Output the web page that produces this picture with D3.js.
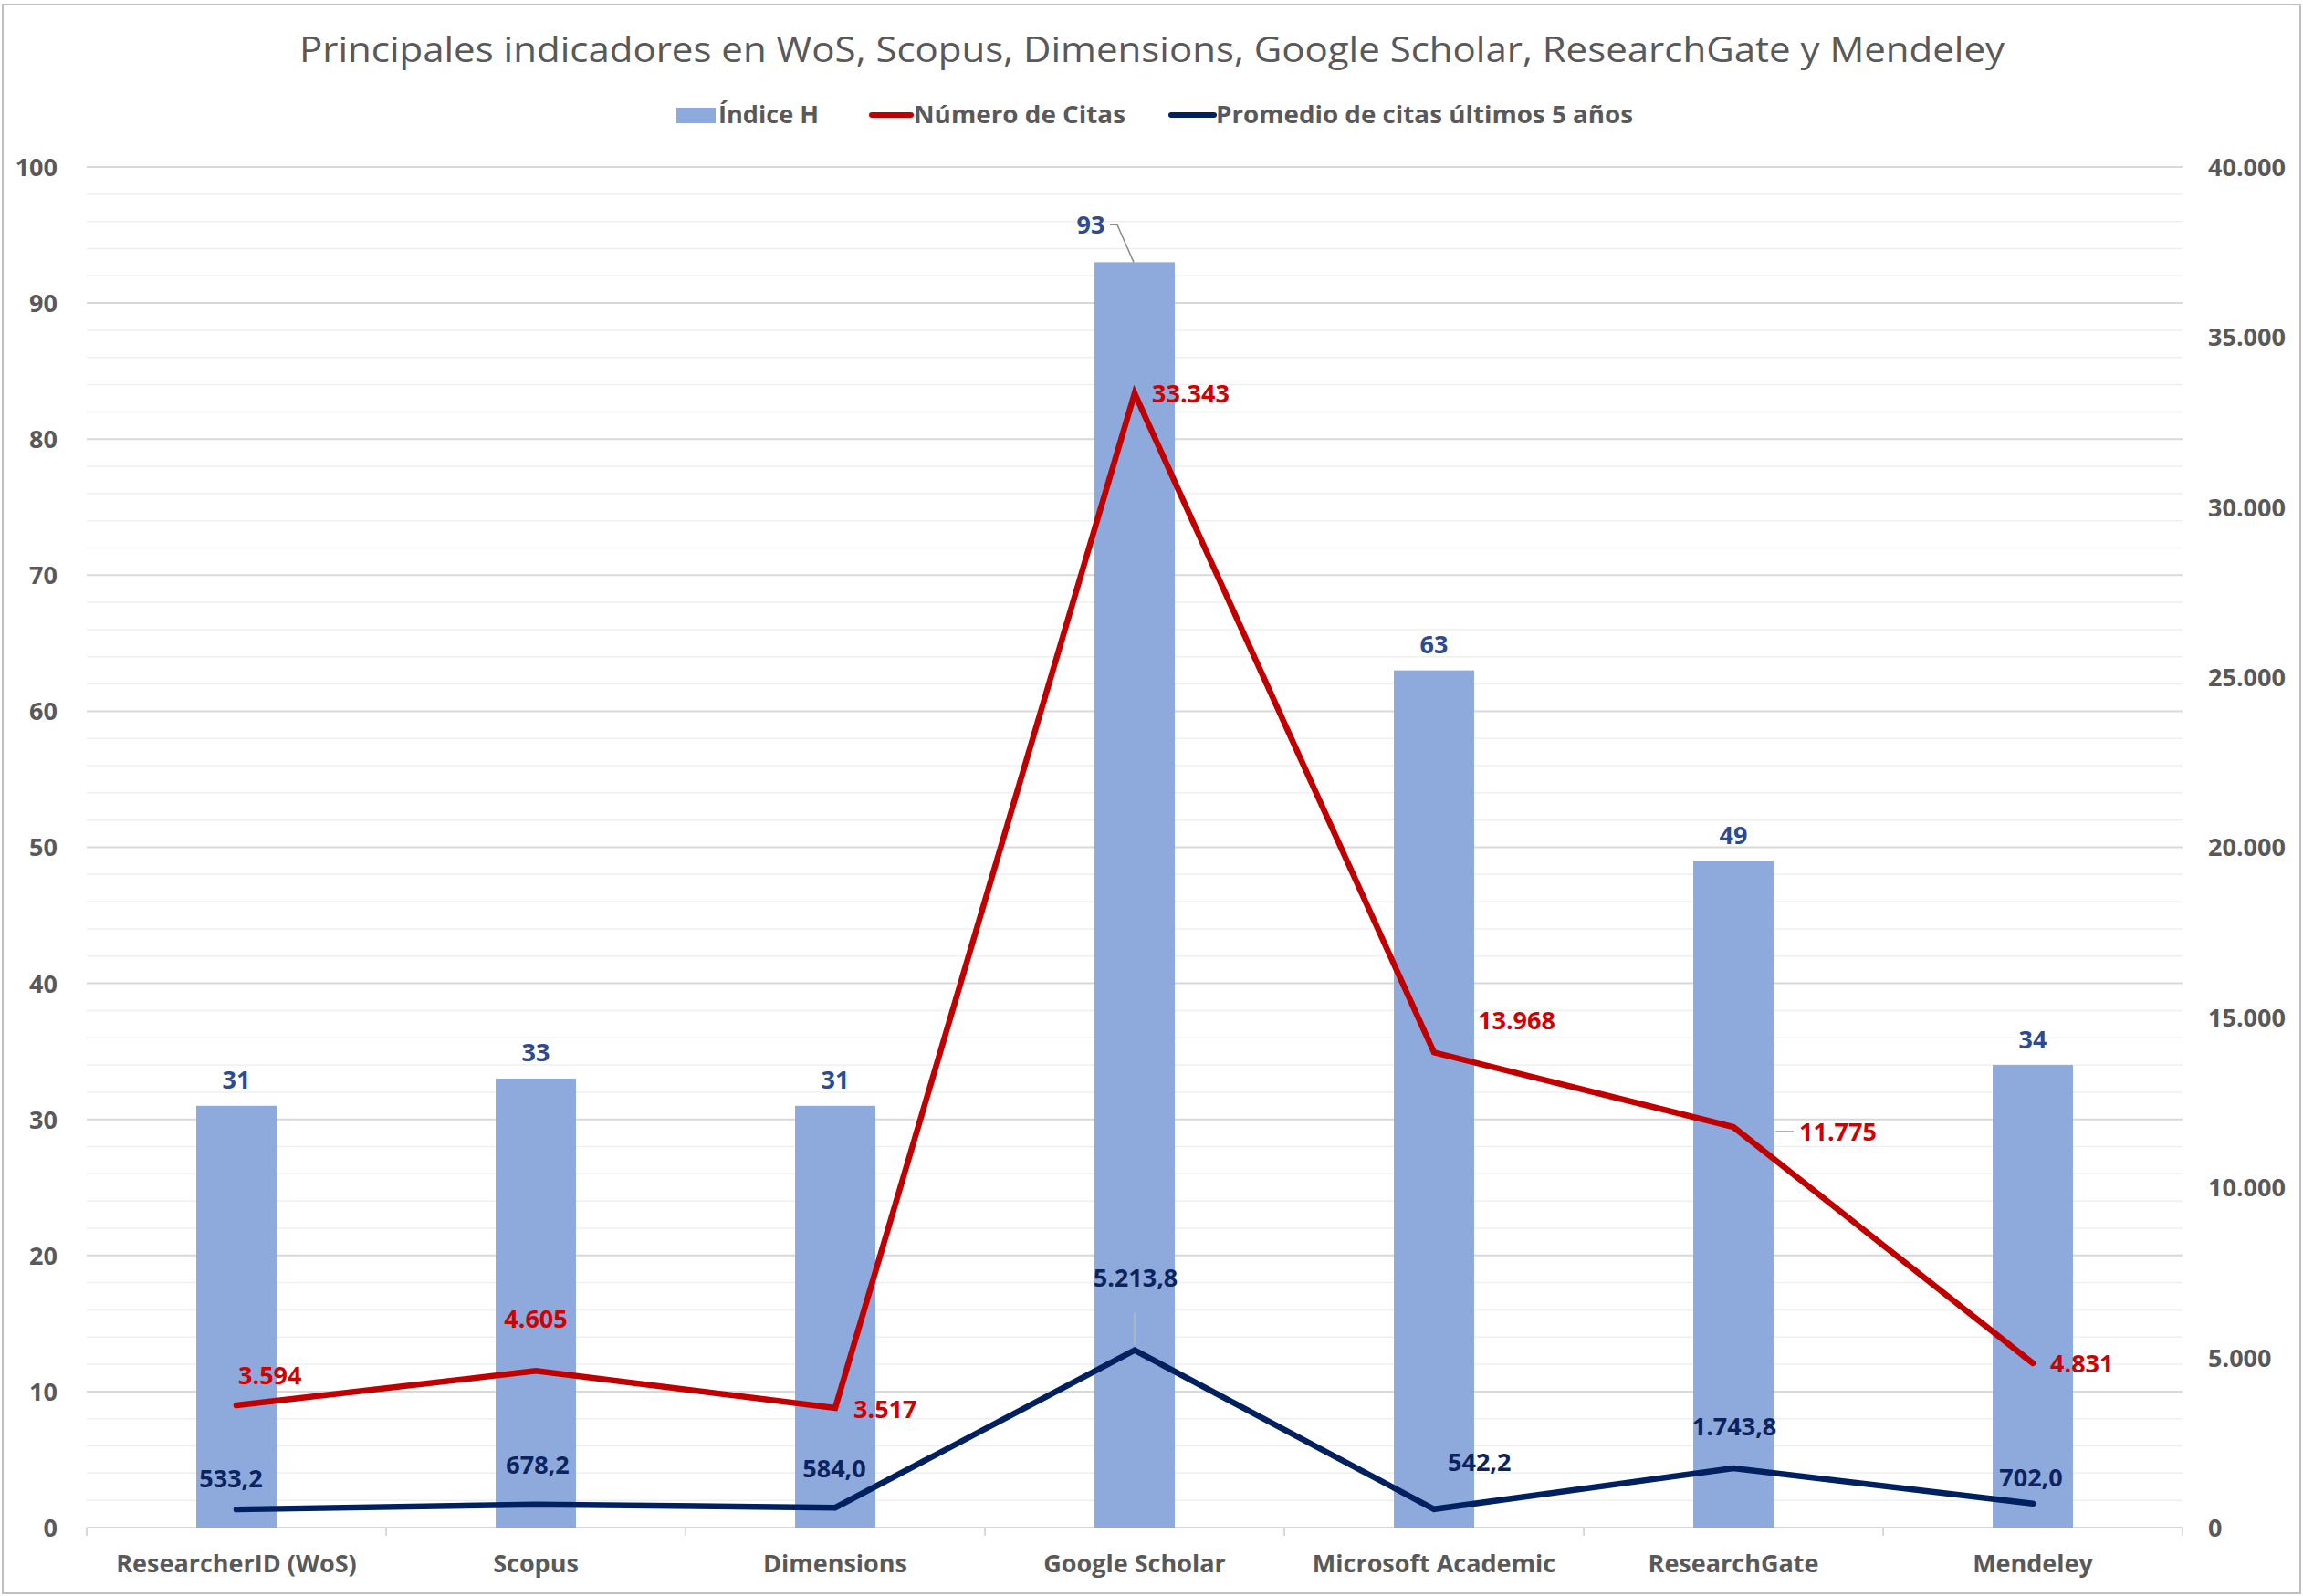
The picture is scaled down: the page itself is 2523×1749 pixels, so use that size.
<!DOCTYPE html>
<html>
<head>
<meta charset="utf-8">
<script src="https://cdn.jsdelivr.net/npm/d3@7"></script>
<style>
  html, body { margin: 0; padding: 0; background: #ffffff; }
  svg { display: block; }
</style>
</head>
<body>
<script>
// ---------- DATA ----------
const categories = ["ResearcherID (WoS)", "Scopus", "Dimensions", "Google Scholar", "Microsoft Academic", "ResearchGate", "Mendeley"];
const indiceH = [31, 33, 31, 93, 63, 49, 34];
const numeroCitas = [3594, 4605, 3517, 33343, 13968, 11775, 4831];
const promedioCitas = [533.2, 678.2, 584.0, 5213.8, 542.2, 1743.8, 702.0];
const leftTicks = [0, 10, 20, 30, 40, 50, 60, 70, 80, 90, 100];
const rightTicks = [0, 5000, 10000, 15000, 20000, 25000, 30000, 35000, 40000];
const seriesNames = ["Índice H", "Número de Citas", "Promedio de citas últimos 5 años"];
const titleText = "Principales indicadores en WoS, Scopus, Dimensions, Google Scholar, ResearchGate y Mendeley";

// ---------- LAYOUT / STYLE ----------
const W = 2523, H = 1749;
const plot = { left: 95, right: 2391, top: 183, bottom: 1674 };
const colors = { bar: "#8EA9DB", red: "#C00000", navy: "#002060", barLabel: "#2E4A91", redLabel: "#D00000", navyLabel: "#0B2460", text: "#595959", grid: "#D9D9D9", minor: "#EFEFEF" };
const fontFam = "'Open Sans', 'DejaVu Sans', sans-serif";
const numSize = 27;
// label placement offsets (px, relative to each mark's point)
const redLabelPlace = [
  { anchor: "start", dx: 2, dy: -32 }, { anchor: "middle", dx: 0, dy: -57 }, { anchor: "start", dx: 20, dy: 2 },
  { anchor: "start", dx: 19, dy: 0 }, { anchor: "start", dx: 48, dy: -35 }, { anchor: "start", dx: 72, dy: 5, leader: [46, 66] },
  { anchor: "start", dx: 19, dy: 1 }
];
const navyLabelPlace = [
  { anchor: "middle", dx: -6, dy: -34 }, { anchor: "middle", dx: 2, dy: -43 }, { anchor: "middle", dx: -1, dy: -43 },
  { anchor: "middle", dx: 1, dy: -79, vleader: true }, { anchor: "start", dx: 15, dy: -51 }, { anchor: "middle", dx: 1, dy: -45 },
  { anchor: "middle", dx: -2, dy: -28 }
];

const locale = d3.formatLocale({ decimal: ",", thousands: ".", grouping: [3], currency: ["", "€"] });
const fmtInt = locale.format(",.0f");
const fmtDec = locale.format(",.1f");

const svg = d3.select("body").append("svg").attr("width", W).attr("height", H);
svg.append("rect").attr("width", W).attr("height", H).attr("fill", "#fff");
// chart border
svg.append("rect").attr("x", 3).attr("y", 5).attr("width", 2517).attr("height", 1741)
  .attr("fill", "none").attr("stroke", "#BFBFBF").attr("stroke-width", 2);

// scales
const x = d3.scaleBand().domain(categories).range([plot.left, plot.right]).paddingInner(0.732).paddingOuter(0.366);
const cx = d => x(d) + x.bandwidth() / 2;
const yL = d3.scaleLinear().domain([0, 100]).range([plot.bottom, plot.top]);
const yR = d3.scaleLinear().domain([0, 40000]).range([plot.bottom, plot.top]);

// minor gridlines
const minorTicks = d3.range(0, 101, 2).filter(v => v % 10 !== 0);
svg.append("g").selectAll("line").data(minorTicks).join("line")
  .attr("x1", plot.left).attr("x2", plot.right)
  .attr("y1", d => yL(d)).attr("y2", d => yL(d))
  .attr("stroke", colors.minor).attr("stroke-width", 1.5);
// major gridlines
svg.append("g").selectAll("line").data(leftTicks).join("line")
  .attr("x1", plot.left).attr("x2", plot.right)
  .attr("y1", d => yL(d)).attr("y2", d => yL(d))
  .attr("stroke", colors.grid).attr("stroke-width", 2);

// left axis
const leftAxis = d3.axisLeft(yL).tickValues(leftTicks).tickSize(0).tickPadding(0).tickFormat(d3.format("d"));
const gL = svg.append("g").attr("transform", "translate(63,0)").call(leftAxis);
gL.select(".domain").remove();
gL.selectAll("text").attr("x", 0).attr("dy", "0.35em").attr("font-family", fontFam).attr("font-weight", 700)
  .attr("font-size", numSize).attr("fill", colors.text);

// right axis
const rightAxis = d3.axisRight(yR).tickValues(rightTicks).tickSize(0).tickPadding(0).tickFormat(fmtInt);
const gR = svg.append("g").attr("transform", "translate(2419,0)").call(rightAxis);
gR.select(".domain").remove();
gR.selectAll("text").attr("x", 0).attr("dy", "0.35em").attr("font-family", fontFam).attr("font-weight", 700)
  .attr("font-size", numSize).attr("fill", colors.text);

// bottom axis
const bottomAxis = d3.axisBottom(x).tickSize(0).tickPadding(0);
const gB = svg.append("g").attr("transform", `translate(0,${plot.bottom})`).call(bottomAxis);
gB.select(".domain").remove();
gB.selectAll("text").attr("y", 49).attr("dy", 0).attr("font-family", fontFam).attr("font-weight", 700)
  .attr("font-size", 27).attr("fill", colors.text);
// category separators ticks
const bounds = d3.range(categories.length + 1).map(i => plot.left + i * x.step());
svg.append("g").selectAll("line").data(bounds).join("line")
  .attr("x1", d => d).attr("x2", d => d).attr("y1", plot.bottom).attr("y2", plot.bottom + 9)
  .attr("stroke", colors.grid).attr("stroke-width", 2);

// bars
svg.append("g").selectAll("rect").data(indiceH).join("rect")
  .attr("x", (d, i) => x(categories[i])).attr("width", x.bandwidth())
  .attr("y", d => yL(d)).attr("height", d => yL(0) - yL(d))
  .attr("fill", colors.bar);

// lines
const lineR = d3.line().x((d, i) => cx(categories[i])).y(d => yR(d));
svg.append("path").datum(numeroCitas).attr("d", lineR).attr("fill", "none")
  .attr("stroke", colors.red).attr("stroke-width", 6.5).attr("stroke-linejoin", "miter").attr("stroke-linecap", "round");
svg.append("path").datum(promedioCitas).attr("d", lineR).attr("fill", "none")
  .attr("stroke", colors.navy).attr("stroke-width", 6.5).attr("stroke-linejoin", "miter").attr("stroke-linecap", "round");

// bar labels
const barLab = svg.append("g");
indiceH.forEach((v, i) => {
  const px = cx(categories[i]), py = yL(v);
  if (v === d3.max(indiceH)) {
    barLab.append("text").attr("x", px - 48).attr("y", py - 41).attr("dy", "0.35em")
      .attr("text-anchor", "middle").attr("font-family", fontFam).attr("font-weight", 700).attr("font-size", numSize)
      .attr("fill", colors.barLabel).text(fmtInt(v));
    barLab.append("path").attr("d", `M${px - 27},${py - 41} L${px - 19},${py - 41} L${px - 1},${py}`)
      .attr("fill", "none").attr("stroke", "#8C8C8C").attr("stroke-width", 1.5);
  } else {
    barLab.append("text").attr("x", px).attr("y", py - 28).attr("dy", "0.35em")
      .attr("text-anchor", "middle").attr("font-family", fontFam).attr("font-weight", 700).attr("font-size", numSize)
      .attr("fill", colors.barLabel).text(fmtInt(v));
  }
});

// red labels
const redLab = svg.append("g");
numeroCitas.forEach((v, i) => {
  const p = redLabelPlace[i], px = cx(categories[i]), py = yR(v);
  redLab.append("text").attr("x", px + p.dx).attr("y", py + p.dy).attr("dy", "0.35em")
    .attr("text-anchor", p.anchor).attr("font-family", fontFam).attr("font-weight", 700).attr("font-size", numSize)
    .attr("fill", colors.redLabel).text(fmtInt(v));
  if (p.leader) {
    redLab.append("line").attr("x1", px + p.leader[0]).attr("x2", px + p.leader[1])
      .attr("y1", py + p.dy).attr("y2", py + p.dy).attr("stroke", "#8C8C8C").attr("stroke-width", 1.5);
  }
});

// navy labels
const navyLab = svg.append("g");
promedioCitas.forEach((v, i) => {
  const p = navyLabelPlace[i], px = cx(categories[i]), py = yR(v);
  navyLab.append("text").attr("x", px + p.dx).attr("y", py + p.dy).attr("dy", "0.35em")
    .attr("text-anchor", p.anchor).attr("font-family", fontFam).attr("font-weight", 700).attr("font-size", numSize)
    .attr("fill", colors.navyLabel).text(fmtDec(v));
  if (p.vleader) {
    navyLab.append("line").attr("x1", px).attr("x2", px).attr("y1", py + p.dy + 38).attr("y2", py - 6)
      .attr("stroke", "#C9C9A0").attr("stroke-width", 1);
  }
});

// title
svg.append("text").attr("x", 1262).attr("y", 68).attr("text-anchor", "middle")
  .attr("font-family", fontFam).attr("font-size", 39).attr("fill", colors.text)
  .attr("textLength", 1868).attr("lengthAdjust", "spacingAndGlyphs").text(titleText);

// legend
const leg = svg.append("g");
const legY = 126;
leg.append("rect").attr("x", 741).attr("y", legY - 8).attr("width", 43).attr("height", 17).attr("fill", colors.bar);
leg.append("line").attr("x1", 955).attr("x2", 998).attr("y1", legY).attr("y2", legY).attr("stroke", colors.red).attr("stroke-width", 6).attr("stroke-linecap", "round");
leg.append("line").attr("x1", 1283).attr("x2", 1330).attr("y1", legY).attr("y2", legY).attr("stroke", colors.navy).attr("stroke-width", 6).attr("stroke-linecap", "round");
const legTextX = [787, 1001, 1332];
const legTextW = [110, 232, 457];
seriesNames.forEach((n, i) => {
  leg.append("text").attr("x", legTextX[i]).attr("y", legY).attr("dy", "0.35em")
    .attr("font-family", fontFam).attr("font-weight", 700).attr("font-size", 27).attr("fill", colors.text)
    .attr("textLength", legTextW[i]).attr("lengthAdjust", "spacingAndGlyphs").text(n);
});
</script>
</body>
</html>
